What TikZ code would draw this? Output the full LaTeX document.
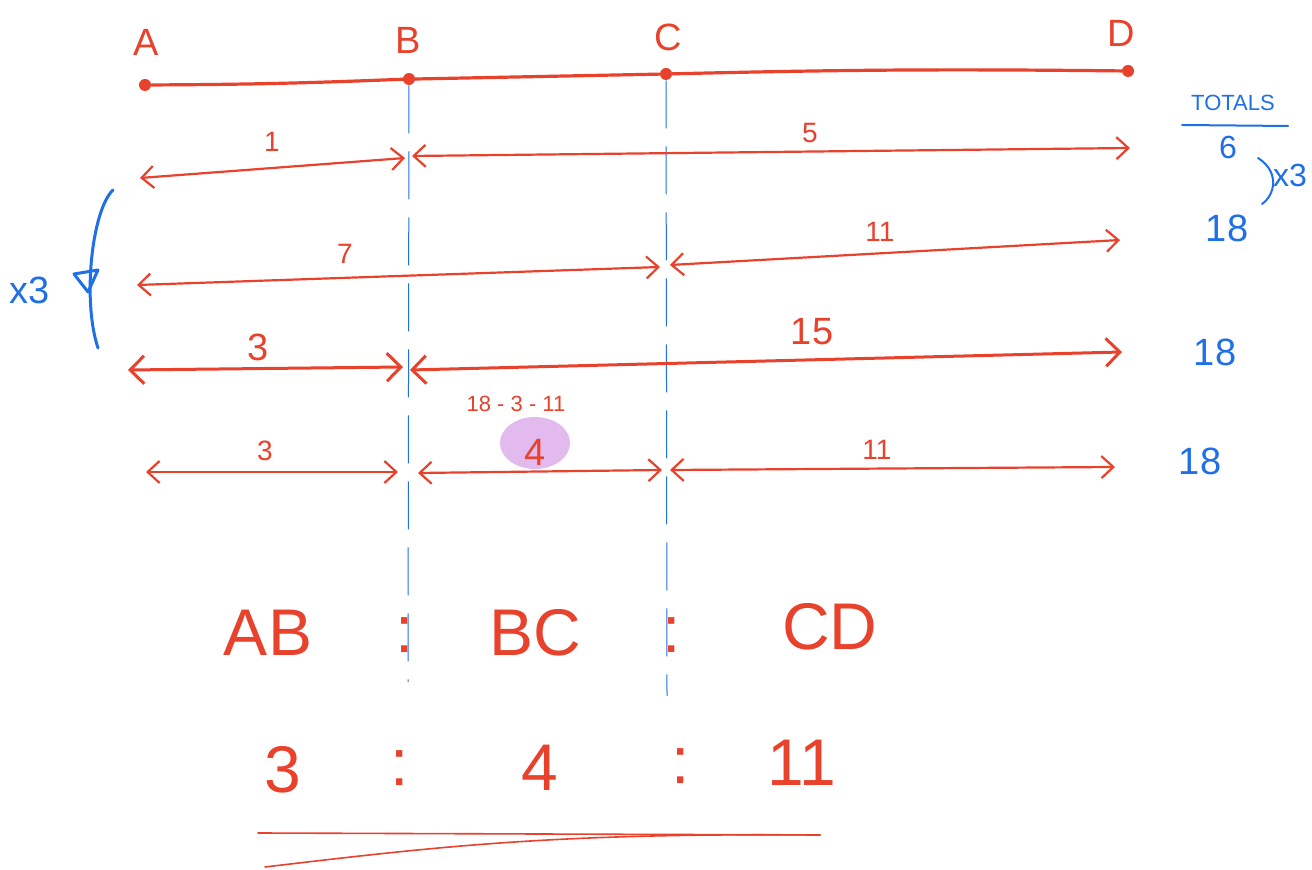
\documentclass[tikz,border=0pt]{standalone}
\usepackage{fontspec}
\setmainfont{Liberation Sans}
\usetikzlibrary{arrows.meta}
\definecolor{inkred}{HTML}{E8412C}
\definecolor{inkblue}{HTML}{1F6FE6}
\definecolor{blob}{HTML}{E2BAEE}
\tikzset{
  redline/.style={draw=inkred, line width=1.1pt, line cap=round},
  dbl/.style={redline, {Straight Barb[length=6pt,width=11pt]}-{Straight Barb[length=6pt,width=11pt]}},
  dblbold/.style={redline, line width=1.5pt, {Straight Barb[length=7pt,width=14pt]}-{Straight Barb[length=7pt,width=14pt]}},
  guide/.style={draw=inkblue, line width=0.5pt, dash pattern=on 24pt off 9pt},
  pt/.style={circle, fill=inkred, inner sep=0pt, minimum size=6pt},
  lbl/.style={text=inkred, inner sep=1pt, font=\fontsize{19}{21}\selectfont},
  num/.style={text=inkred, inner sep=1pt, font=\fontsize{14}{16}\selectfont},
  bnum/.style={text=inkblue, inner sep=1pt, font=\fontsize{19}{21}\selectfont},
  big/.style={text=inkred, inner sep=1pt, font=\fontsize{33}{37}\selectfont},
}
\begin{document}
\begin{tikzpicture}[x=0.5pt, y=-0.5pt]
\useasboundingbox[fill=white] (0,0) rectangle (1312,870);

% main points
\node[pt] (A) at (145,85) {};
\node[pt] (B) at (409,79) {};
\node[pt] (C) at (666,74) {};
\node[pt] (D) at (1128,71) {};
\draw[redline, line width=1.6pt] (A) to[bend right=1] (B) to (C) to[bend left=1] (D);
\node[lbl] (lA) at (146,42) {A};
\node[lbl] (lB) at (408,40) {B};
\node[lbl] (lC) at (668,37) {C};
\node[lbl] (lD) at (1121,33) {D};

% blue guides
\coordinate (Bend) at (408,682);
\coordinate (Cend) at (667,696);
\draw[guide] (B) -- (Bend);
\draw[guide] (C) -- (Cend);

% row 1
\coordinate (r1a) at (140,178);
\coordinate (r1b) at (405,158);
\coordinate (r1c) at (412,156);
\coordinate (r1d) at (1130,148);
\draw[dbl] (r1a) -- (r1b);
\draw[dbl] (r1c) -- (r1d);
\node[num] (n1) at (272,142) {1};
\node[num] (n5) at (810,133) {5};

% row 2
\coordinate (r2a) at (137,285);
\coordinate (r2b) at (660,267);
\coordinate (r2c) at (670,265);
\coordinate (r2d) at (1120,240);
\draw[dbl] (r2a) -- (r2b);
\draw[dbl] (r2c) -- (r2d);
\node[num] (n7) at (345,254) {7};
\node[num] (n11a) at (880,232) {11};

% row 3
\coordinate (r3a) at (128,370);
\coordinate (r3b) at (403,367);
\coordinate (r3c) at (410,370);
\coordinate (r3d) at (1122,352);
\draw[dblbold] (r3a) -- (r3b);
\draw[dblbold] (r3c) -- (r3d);
\node[lbl] (n3a) at (258,347) {3};
\node[lbl] (n15) at (812,332) {15};

% row 4
\coordinate (r4a) at (146,472);
\coordinate (r4b) at (398,472);
\coordinate (r4c) at (418,473);
\coordinate (r4d) at (662,470);
\coordinate (r4e) at (670,470);
\coordinate (r4f) at (1115,467);
\fill[blob] (535,443) ellipse [x radius=35, y radius=26];
\draw[dbl] (r4a) -- (r4b);
\draw[dbl] (r4c) -- (r4d);
\draw[dbl] (r4e) -- (r4f);
\node[num] (n3b) at (265,451) {3};
\node[lbl] (n4) at (535,452) {4};
\node[num] (n11b) at (877,450) {11};
\node[text=inkred, inner sep=1pt, font=\fontsize{11}{13}\selectfont] (calc) at (516,404) {18 - 3 - 11};

% totals column
\node[text=inkblue, inner sep=1pt, font=\fontsize{11}{13}\selectfont] (tot) at (1233,103) {TOTALS};
\coordinate (ul1) at (1182,125);
\coordinate (ul2) at (1288,126);
\draw[draw=inkblue, line width=1pt, line cap=round] (ul1) -- (ul2);
\node[bnum, font=\fontsize{16}{18}\selectfont] (t6) at (1228,147) {6};
\coordinate (rb1) at (1258,158);
\coordinate (rb2) at (1262,204);
\draw[draw=inkblue, line width=1pt, line cap=round] (rb1) .. controls (1280,172) and (1275,195) .. (rb2);
\node[bnum, font=\fontsize{16}{18}\selectfont] (rx3) at (1290,175) {x3};
\node[bnum] (t18a) at (1227,228) {18};
\node[bnum] (t18b) at (1215,352) {18};
\node[bnum] (t18c) at (1200,461) {18};

% left brace
\coordinate (lb1) at (113,190);
\coordinate (lb2) at (98,348);
\draw[draw=inkblue, line width=1.5pt, line cap=round] (lb1) .. controls (92,210) and (82,300) .. (lb2);
\draw[draw=inkblue, line width=1.5pt, line join=round] (74,274) -- (98,270) -- (88,292) -- cycle;
\node[bnum] (lx3) at (30,290) {x3};

% ratio rows
\node[big] (AB) at (268,633) {AB};
\node[big] (c1) at (405,635) {:};
\node[big] (BC) at (535,633) {BC};
\node[big] (c2) at (672,635) {:};
\node[big] (CD) at (830,627) {CD};

\node[big] (v3) at (283,770) {3};
\node[big] (c3) at (400,768) {:};
\node[big] (v4) at (540,768) {4};
\node[big] (c4) at (681,766) {:};
\node[big] (v11) at (802,763) {11};

% underlines
\coordinate (u1) at (258,833);
\coordinate (u2) at (820,835);
\coordinate (u3) at (265,867);
\draw[redline, line width=0.8pt] (u1) -- (u2);
\draw[redline, line width=0.8pt] (u3) .. controls (450,845) and (560,833) .. (u2);
\end{tikzpicture}
\end{document}
